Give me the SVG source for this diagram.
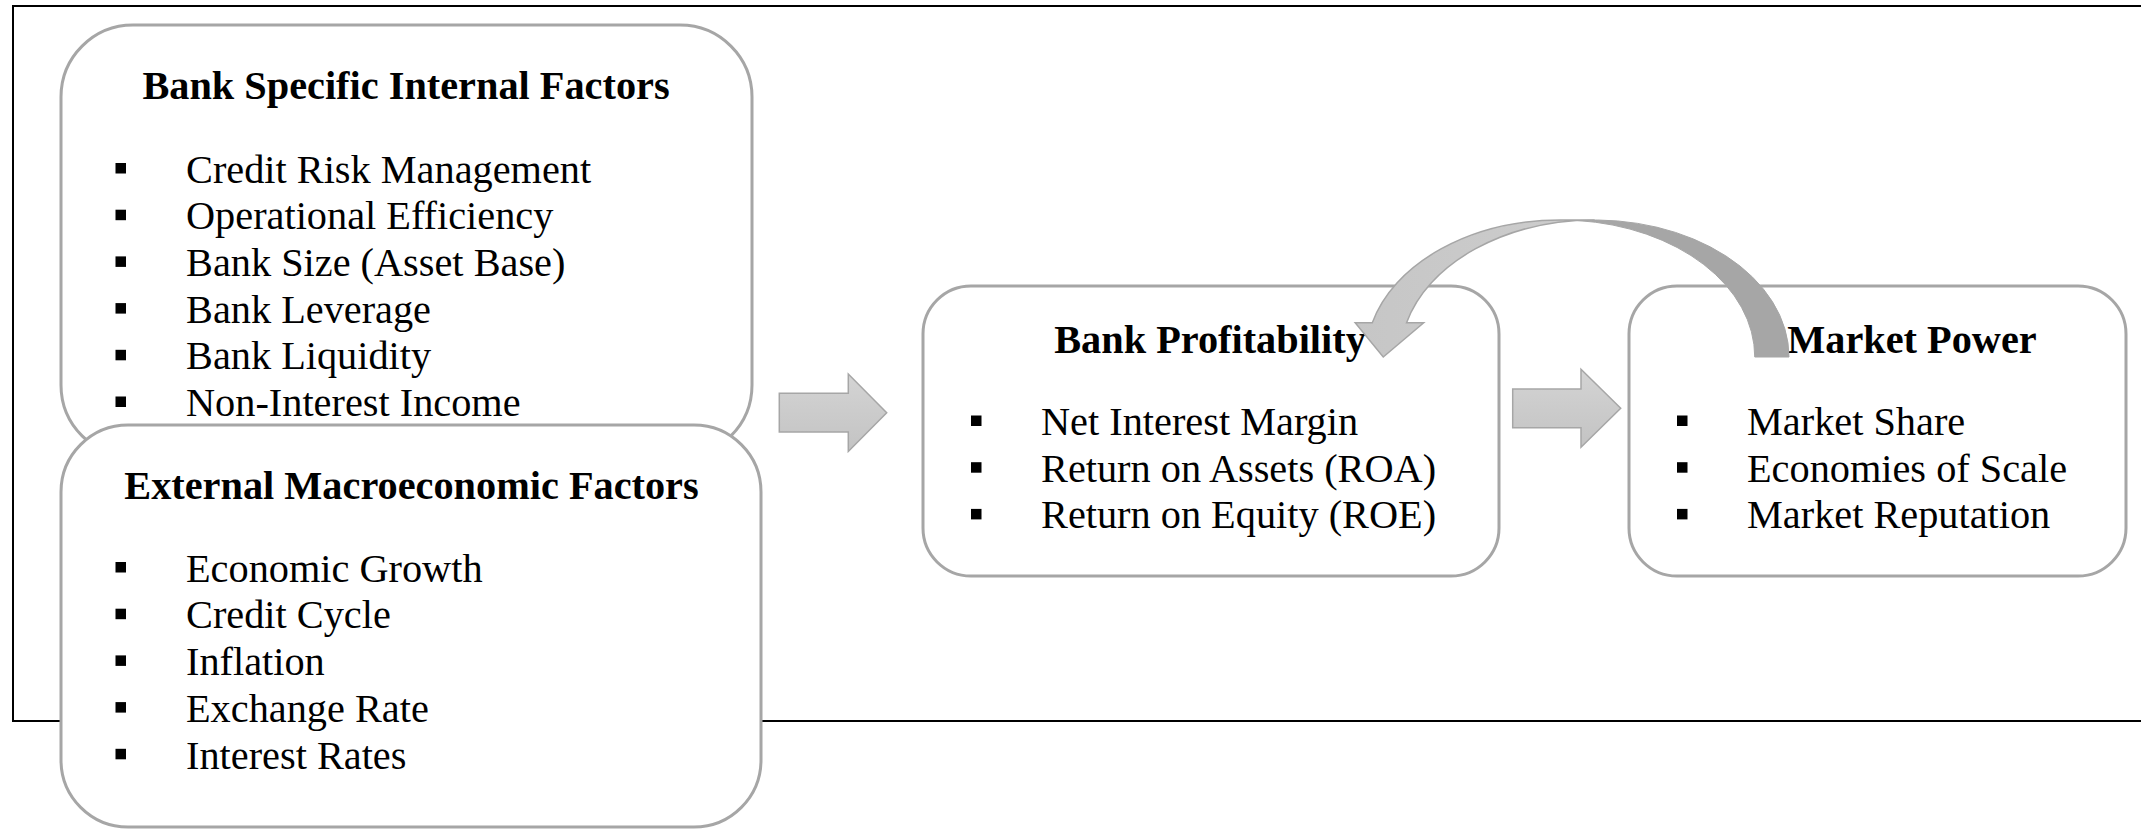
<svg xmlns="http://www.w3.org/2000/svg" width="2141" height="829" viewBox="0 0 2141 829">
<style>
.frame{fill:none;stroke:#000;stroke-width:2}
.box{fill:#fff;stroke:#a6a6a6;stroke-width:3}
.t{font-family:"Liberation Serif","Times New Roman",serif;font-size:40.3px;font-weight:bold;fill:#000;text-anchor:middle}
.i{font-family:"Liberation Serif","Times New Roman",serif;font-size:40.3px;fill:#000}
.b{fill:#000}
.arr{fill:url(#g1);stroke:#a6a6a6;stroke-width:1.5}
.front{fill:url(#g2);stroke:#a6a6a6;stroke-width:1.5}
.back{fill:#a6a6a6;stroke:#a6a6a6;stroke-width:1}
</style>
<defs>
<linearGradient id="g1" x1="0" y1="0" x2="0" y2="1">
<stop offset="0" stop-color="#d4d4d4"/>
<stop offset="1" stop-color="#c3c3c3"/>
</linearGradient>
<linearGradient id="g2" x1="0" y1="0" x2="1" y2="0">
<stop offset="0" stop-color="#c6c6c6"/>
<stop offset="1" stop-color="#cdcdcd"/>
</linearGradient>
</defs>
<rect class="frame" x="13" y="6" width="2140" height="715"/>
<g id="node-internal">
<rect class="box" x="61" y="25" width="691" height="432" rx="72" ry="72"/>
<text class="t" x="406" y="98.5">Bank Specific Internal Factors</text>
<rect class="b" x="115.5" y="163" width="10.5" height="10.5"/>
<rect class="b" x="115.5" y="209.7" width="10.5" height="10.5"/>
<rect class="b" x="115.5" y="256.4" width="10.5" height="10.5"/>
<rect class="b" x="115.5" y="303.1" width="10.5" height="10.5"/>
<rect class="b" x="115.5" y="349.8" width="10.5" height="10.5"/>
<rect class="b" x="115.5" y="396.5" width="10.5" height="10.5"/>
<text class="i" x="186" y="182.5">Credit Risk Management</text>
<text class="i" x="186" y="229.2">Operational Efficiency</text>
<text class="i" x="186" y="275.9">Bank Size (Asset Base)</text>
<text class="i" x="186" y="322.6">Bank Leverage</text>
<text class="i" x="186" y="369.3">Bank Liquidity</text>
<text class="i" x="186" y="416">Non-Interest Income</text>
</g>
<g id="node-external">
<rect class="box" x="61" y="425" width="700" height="402" rx="67" ry="67"/>
<text class="t" x="411.5" y="499">External Macroeconomic Factors</text>
<rect class="b" x="115.5" y="562" width="10.5" height="10.5"/>
<rect class="b" x="115.5" y="608.7" width="10.5" height="10.5"/>
<rect class="b" x="115.5" y="655.4" width="10.5" height="10.5"/>
<rect class="b" x="115.5" y="702.1" width="10.5" height="10.5"/>
<rect class="b" x="115.5" y="748.8" width="10.5" height="10.5"/>
<text class="i" x="186" y="581.7">Economic Growth</text>
<text class="i" x="186" y="628.4">Credit Cycle</text>
<text class="i" x="186" y="675.1">Inflation</text>
<text class="i" x="186" y="721.8">Exchange Rate</text>
<text class="i" x="186" y="768.5">Interest Rates</text>
</g>
<g id="node-profitability">
<rect class="box" x="923" y="286" width="576" height="290" rx="48" ry="48"/>
<text class="t" x="1210" y="353">Bank Profitability</text>
<rect class="b" x="971" y="415.5" width="10.5" height="10.5"/>
<rect class="b" x="971" y="462.2" width="10.5" height="10.5"/>
<rect class="b" x="971" y="508.9" width="10.5" height="10.5"/>
<text class="i" x="1041" y="435">Net Interest Margin</text>
<text class="i" x="1041" y="481.7">Return on Assets (ROA)</text>
<text class="i" x="1041" y="528.4">Return on Equity (ROE)</text>
</g>
<g id="node-market-power">
<rect class="box" x="1629" y="286" width="497" height="290" rx="48" ry="48"/>
<text class="t" x="1912" y="353">Market Power</text>
<rect class="b" x="1677" y="415.5" width="10.5" height="10.5"/>
<rect class="b" x="1677" y="462.2" width="10.5" height="10.5"/>
<rect class="b" x="1677" y="508.9" width="10.5" height="10.5"/>
<text class="i" x="1747" y="435">Market Share</text>
<text class="i" x="1747" y="481.7">Economies of Scale</text>
<text class="i" x="1747" y="528.4">Market Reputation</text>
</g>
<g id="connectors">
<path class="arr" d="M779.3,393.3 H848.3 V374 L886.7,412.7 L848.3,451.5 V432 H779.3 Z"/>
<path class="arr" d="M1512.7,389 H1581 V369.3 L1620.7,408.3 L1581,447.3 V427.7 H1512.7 Z"/>
<g id="feedback-arrow">
<path class="back" d="M1577.56,220.53 A194.31,137 0 0 1 1789,357 L1754.75,357 A194.31,137 0 0 0 1577.56,220.53 Z"/>
<path class="front" d="M1383.25,357 L1423.67,322.75 L1406.55,322.75 A194.31,137 0 0 1 1594.69,220 L1560.44,220 A194.31,137 0 0 0 1372.3,322.75 L1355.17,322.75 Z"/>
</g>
</g>
</svg>
